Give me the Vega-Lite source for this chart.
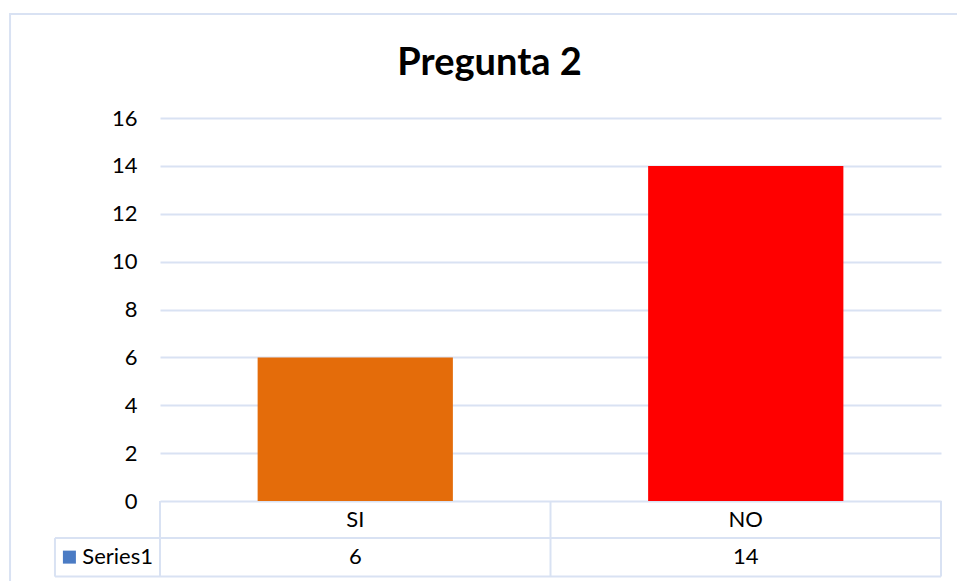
{
  "$schema": "https://vega.github.io/schema/vega-lite/v6.json",
  "autosize": "none",
  "padding": {"left": 160, "top": 118, "right": 16, "bottom": 4},
  "width": 781,
  "height": 459,
  "background": "white",
  "config": {"view": {"stroke": null}, "font": "Lato"},
  "datasets": {"answers": [{"cat": "SI", "value": 6}, {"cat": "NO", "value": 14}], "one": [{}]},
  "resolve": {"scale": {"x": "independent"}, "axis": {"x": "independent"}},
  "layer": [
    {
      "data": {"name": "one"},
      "mark": {"type": "rect", "filled": false, "stroke": "#D9E2F3", "strokeWidth": 2, "clip": false},
      "encoding": {
        "x": {"datum": -0.384, "type": "quantitative", "scale": {"domain": [0, 2], "nice": false, "zero": false}, "axis": null},
        "x2": {"datum": 2.5},
        "y": {"datum": 20.34, "type": "quantitative"},
        "y2": {"datum": -6}
      }
    },
    {
      "data": {"name": "one"},
      "mark": {"type": "text", "font": "Lato", "fontSize": 38, "fontWeight": "bold", "color": "#000000", "baseline": "alphabetic", "align": "center", "text": "Pregunta 2", "clip": false},
      "encoding": {
        "x": {"datum": 0.844, "type": "quantitative", "scale": {"domain": [0, 2], "nice": false, "zero": false}, "axis": null},
        "y": {"datum": 17.79, "type": "quantitative"}
      }
    },
    {
      "data": {"name": "answers"},
      "mark": {"type": "bar", "clip": false},
      "encoding": {
        "x": {"field": "cat", "type": "nominal", "sort": ["SI", "NO"], "scale": {"domain": ["SI", "NO"], "paddingInner": 0.5, "paddingOuter": 0.25}, "axis": null},
        "y": {"field": "value", "type": "quantitative", "scale": {"domain": [-3.17, 16], "nice": false, "zero": false},
          "axis": {"values": [0, 2, 4, 6, 8, 10, 12, 14, 16], "title": null, "domain": false, "ticks": false, "grid": true, "gridColor": "#D9E2F3", "gridWidth": 2, "labelFont": "Lato", "labelFontSize": 22, "labelColor": "#000000", "labelPadding": 23}},
        "y2": {"datum": 0},
        "color": {"field": "cat", "type": "nominal", "scale": {"domain": ["SI", "NO"], "range": ["#E46C0A", "#FF0000"]}, "legend": null}
      }
    },
    {
      "data": {"name": "answers"},
      "mark": {"type": "text", "font": "Lato", "fontSize": 22, "fontWeight": "normal", "color": "#000000", "baseline": "middle", "align": "center"},
      "encoding": {
        "x": {"field": "cat", "type": "nominal", "scale": {"domain": ["SI", "NO"], "paddingInner": 0.5, "paddingOuter": 0.25}, "axis": null},
        "y": {"datum": -0.773, "type": "quantitative"},
        "text": {"field": "cat"}
      }
    },
    {
      "data": {"name": "answers"},
      "mark": {"type": "text", "font": "Lato", "fontSize": 22, "fontWeight": "normal", "color": "#000000", "baseline": "middle", "align": "center"},
      "encoding": {
        "x": {"field": "cat", "type": "nominal", "scale": {"domain": ["SI", "NO"], "paddingInner": 0.5, "paddingOuter": 0.25}, "axis": null},
        "y": {"datum": -2.34, "type": "quantitative"},
        "text": {"field": "value"}
      }
    },
    {
      "data": {"name": "one"},
      "mark": {"type": "rule", "stroke": "#D9E2F3", "strokeWidth": 2, "clip": false},
      "encoding": {
        "x": {"datum": -0.269, "type": "quantitative", "scale": {"domain": [0, 2], "nice": false, "zero": false}, "axis": null},
        "x2": {"datum": 2},
        "y": {"datum": -1.545, "type": "quantitative"}
      }
    },
    {
      "data": {"name": "one"},
      "mark": {"type": "rule", "stroke": "#D9E2F3", "strokeWidth": 2, "clip": false},
      "encoding": {
        "x": {"datum": -0.269, "type": "quantitative", "scale": {"domain": [0, 2], "nice": false, "zero": false}, "axis": null},
        "x2": {"datum": 2},
        "y": {"datum": -3.154, "type": "quantitative"}
      }
    },
    {
      "data": {"name": "one"},
      "mark": {"type": "rule", "stroke": "#D9E2F3", "strokeWidth": 2, "clip": false},
      "encoding": {
        "x": {"datum": 0, "type": "quantitative", "scale": {"domain": [0, 2], "nice": false, "zero": false}, "axis": null},
        "y": {"datum": 0, "type": "quantitative"},
        "y2": {"datum": -3.154}
      }
    },
    {
      "data": {"name": "one"},
      "mark": {"type": "rule", "stroke": "#D9E2F3", "strokeWidth": 2, "clip": false},
      "encoding": {
        "x": {"datum": 1, "type": "quantitative", "scale": {"domain": [0, 2], "nice": false, "zero": false}, "axis": null},
        "y": {"datum": 0, "type": "quantitative"},
        "y2": {"datum": -3.154}
      }
    },
    {
      "data": {"name": "one"},
      "mark": {"type": "rule", "stroke": "#D9E2F3", "strokeWidth": 2, "clip": false},
      "encoding": {
        "x": {"datum": 2, "type": "quantitative", "scale": {"domain": [0, 2], "nice": false, "zero": false}, "axis": null},
        "y": {"datum": 0, "type": "quantitative"},
        "y2": {"datum": -3.154}
      }
    },
    {
      "data": {"name": "one"},
      "mark": {"type": "rule", "stroke": "#D9E2F3", "strokeWidth": 2, "clip": false},
      "encoding": {
        "x": {"datum": -0.269, "type": "quantitative", "scale": {"domain": [0, 2], "nice": false, "zero": false}, "axis": null},
        "y": {"datum": -1.545, "type": "quantitative"},
        "y2": {"datum": -3.154}
      }
    },
    {
      "data": {"name": "one"},
      "mark": {"type": "square", "filled": true, "color": "#4A7BC4", "size": 169, "opacity": 1, "clip": false},
      "encoding": {
        "x": {"datum": -0.232, "type": "quantitative", "scale": {"domain": [0, 2], "nice": false, "zero": false}, "axis": null},
        "y": {"datum": -2.34, "type": "quantitative"}
      }
    },
    {
      "data": {"name": "one"},
      "mark": {"type": "text", "font": "Lato", "fontSize": 22, "fontWeight": "normal", "color": "#000000", "baseline": "middle", "align": "left", "text": "Series1", "clip": false},
      "encoding": {
        "x": {"datum": -0.199, "type": "quantitative", "scale": {"domain": [0, 2], "nice": false, "zero": false}, "axis": null},
        "y": {"datum": -2.34, "type": "quantitative"}
      }
    }
  ]
}
